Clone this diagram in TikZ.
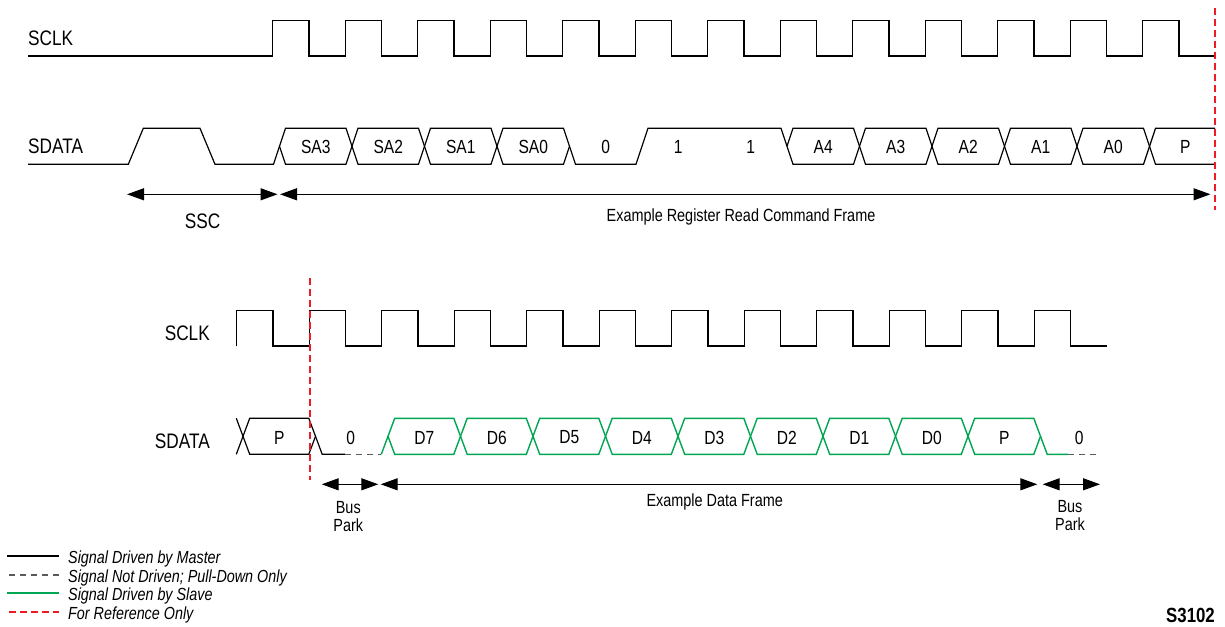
\documentclass[tikz,border=0pt]{standalone}
\usepackage{fontspec}
\setmainfont[FakeStretch=0.82]{Liberation Sans}
\usetikzlibrary{arrows.meta,calc}

\definecolor{slavegreen}{RGB}{0,166,81}
\definecolor{refred}{RGB}{237,28,36}
\definecolor{parkgray}{RGB}{90,90,90}

\tikzset{
  master/.style={line width=1.2pt, draw=black},
  slave/.style={line width=1.4pt, draw=slavegreen},
  pulldown/.style={line width=1.2pt, draw=parkgray, dash pattern=on 6pt off 5pt},
  refline/.style={line width=1.8pt, draw=refred, dash pattern=on 7pt off 4pt},
  span/.style={line width=1.2pt, {Triangle[length=17pt,width=12pt]}-{Triangle[length=17pt,width=12pt]}},
  sig/.style={font=\fontsize{21}{24}\selectfont, inner sep=0pt},
  bitlbl/.style={font=\fontsize{19}{22}\selectfont, inner sep=0pt},
  framelbl/.style={font=\fontsize{17.6}{17.7}\selectfont, inner sep=0pt, align=center},
  keylbl/.style={font=\fontsize{17.5}{20}\selectfont\itshape, inner sep=0pt, anchor=west},
}

\begin{document}
\begin{tikzpicture}[x=1pt,y=-1pt]
    \useasboundingbox (0,0) rectangle (1225,626);

    % command frame: SCLK
    \node[sig, anchor=west] (sclkA) at (28,38) {SCLK};
    \draw[master] (28,56) \foreach \k in {0,...,12}{ -- ({272.7+72.5*\k},56) -- ({272.7+72.5*\k},20.5) -- ({309+72.5*\k},20.5) -- ({309+72.5*\k},56) } -- (1215,56);

    % command frame: SDATA
    \node[sig, anchor=west] (sdataA) at (28,146.3) {SDATA};
    \draw[master] (28,164.3) -- (128.3,164.3) -- (143.3,128.3) -- (200,128.3) -- (215,164.3) -- (273.5,164.3) -- (279.5,146.3);
    \foreach \k/\txt in {0/SA3,1/SA2,2/SA1,3/SA0,7/A4,8/A3,9/A2,10/A1,11/A0}{
        \pgfmathsetmacro\xa{273.5+72.5*\k}
        \pgfmathsetmacro\xb{\xa+72.5}
        \draw[master] (\xa+6,146.3) -- (\xa+12,128.3) -- (\xb,128.3) -- (\xb+6,146.3) -- (\xb,164.3) -- (\xa+12,164.3) -- cycle;
        \node[bitlbl] (t\k) at ({(\xa+12+\xb)/2},147) {\txt};
    }
    \draw[master] (569.5,146.3) -- (575.5,164.3) -- (636,164.3) -- (648,128.3) -- (781,128.3) -- (787,146.3); % 0 1 1
    \node[bitlbl] (t4) at (605.8,147) {0};
    \node[bitlbl] (t5) at (678.3,147) {1};
    \node[bitlbl] (t6) at (750.8,147) {1};
    \draw[master] (1215,128.3) -- (1155.5,128.3) -- (1149.5,146.3) -- (1155.5,164.3) -- (1215,164.3);
    \node[bitlbl] (t12) at (1185.2,147) {P};

    \draw[refline] (1214.8,8) -- (1214.8,210);

    % command frame spans
    \coordinate (sscL) at (127,194.3);
    \coordinate (sscR) at (277.5,194.3);
    \coordinate (cmdL) at (280,194.3);
    \coordinate (cmdR) at (1210.5,194.3);
    \draw[span] (sscL) -- (sscR);
    \draw[span] (cmdL) -- (cmdR);
    \node[sig] (ssc) at (202.7,221.7) {SSC};
    \node[framelbl] (cmd) at (741,216.5) {Example Register Read Command Frame};

    % data frame: SCLK
    \node[sig, anchor=east] (sclkB) at (210,333.3) {SCLK};
    \draw[master] (236.8,346) \foreach \k in {0,...,11}{ -- ({236.8+72.5*\k},346) -- ({236.8+72.5*\k},310.5) -- ({273+72.5*\k},310.5) -- ({273+72.5*\k},346) } -- (1106.7,346);

    % data frame: SDATA
    \node[sig, anchor=east] (sdataB) at (210,441.7) {SDATA};
    \draw[master] (236.3,418.3) -- (243,436.3) -- (236.3,454.3);
    \draw[master] (243,436.3) -- (249.7,418.3) -- (308.8,418.3) -- (315.5,436.3) -- (308.8,454.3) -- (249.7,454.3) -- cycle;
    \node[bitlbl] (b0) at (279.3,437.5) {P};
    \draw[master] (315.5,436.3) -- (322.2,454.3) -- (345,454.3);
    \draw[pulldown] (345,454.3) -- (381.3,454.3);
    \node[bitlbl] (b1) at (350.7,437.5) {0};
    \draw[slave] (381.3,454.3) -- (388,436.3);
    \foreach \k/\txt in {2/D7,3/D6,4/D5,5/D4,6/D3,7/D2,8/D1,9/D0,10/P}{
        \pgfmathsetmacro\xa{236.3+72.5*\k}
        \pgfmathsetmacro\xb{\xa+72.5}
        \draw[slave] (\xa+6.7,436.3) -- (\xa+13.4,418.3) -- (\xb,418.3) -- (\xb+6.7,436.3) -- (\xb,454.3) -- (\xa+13.4,454.3) -- cycle;
        \node[bitlbl] (b\k) at ({(\xa+13.4+\xb)/2},437.5) {\txt};
    }
    \draw[slave] (1040.5,436.3) -- (1047.2,454.3) -- (1068,454.3);
    \draw[pulldown] (1068,454.3) -- (1097,454.3);
    \node[bitlbl] (b11) at (1079.3,437.5) {0};

    \draw[refline] (310,278) -- (310,480);

    % data frame spans
    \coordinate (parkAL) at (321.7,484.3);
    \coordinate (parkAR) at (378.3,484.3);
    \coordinate (dataL) at (380.7,484.3);
    \coordinate (dataR) at (1037.3,484.3);
    \coordinate (parkBL) at (1042.7,484.3);
    \coordinate (parkBR) at (1100,484.3);
    \draw[span] (parkAL) -- (parkAR);
    \draw[span] (dataL) -- (dataR);
    \draw[span] (parkBL) -- (parkBR);
    \node[framelbl] (parkA) at (348.3,516.2) {Bus\\Park};
    \node[framelbl] (data) at (714.7,501.7) {Example Data Frame};
    \node[framelbl] (parkB) at (1070,515.5) {Bus\\Park};

    % legend
    \draw[master] (7.3,556) -- (59.3,556);
    \node[keylbl] (key1) at (68,559) {Signal Driven by Master};
    \draw[pulldown] (9,575) -- (59.3,575);
    \node[keylbl] (key2) at (68,578) {Signal Not Driven; Pull-Down Only};
    \draw[slave, line width=1.7pt] (7.3,593) -- (59.3,593);
    \node[keylbl] (key3) at (68,596.3) {Signal Driven by Slave};
    \draw[refline] (9,611.7) -- (59.3,611.7);
    \node[keylbl] (key4) at (68,614.7) {For Reference Only};

    \node[font=\fontsize{20.5}{22}\selectfont\bfseries, inner sep=0pt, anchor=east] (fig) at (1215,615.5) {S3102};
\end{tikzpicture}
\end{document}
